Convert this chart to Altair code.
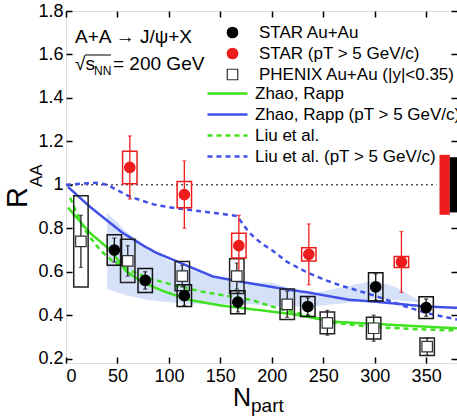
import altair as alt
import pandas as pd

# ---------------- data ----------------
# STAR Au+Au (black dots)
star_n = [47, 77, 115, 167, 235, 301, 350]
star_r = [0.70, 0.56, 0.49, 0.46, 0.44, 0.53, 0.435]
star_stat = [0.055, 0.04, 0.045, 0.045, 0.04, 0.06, 0.04]
star_sys = [0.07, 0.055, 0.05, 0.053, 0.046, 0.065, 0.05]

# STAR pT > 5 GeV/c (red dots)
hi_n = [62, 115, 168, 236, 326]
hi_r = [1.08, 0.955, 0.72, 0.68, 0.645]
hi_stat = [0.145, 0.155, 0.14, 0.14, 0.14]
hi_sys = [0.075, 0.06, 0.057, 0.03, 0.025]

# PHENIX Au+Au |y|<0.35 (open squares)
phx_n = [14.5, 60, 113, 166, 215, 254, 299, 351]
phx_r = [0.74, 0.65, 0.58, 0.58, 0.45, 0.365, 0.34, 0.255]
phx_stat = [0.12, 0.07, 0.05, 0.06, 0.06, 0.057, 0.06, 0.04]
phx_sys = [0.21, 0.10, 0.067, 0.08, 0.07, 0.05, 0.05, 0.04]

# model curves
zr_n = [2, 12, 23, 43, 59, 75, 95, 120, 150, 185, 220, 260, 300, 350, 380]
zr_r = [0.895, 0.84, 0.78, 0.70, 0.60, 0.55, 0.51, 0.47, 0.445, 0.425, 0.405, 0.37, 0.36, 0.347, 0.34]

zrhi_n = [2, 23, 33, 55, 77, 88, 120, 143, 169, 200, 217, 235, 275, 301, 350, 380]
zrhi_r = [0.99, 0.90, 0.862, 0.779, 0.715, 0.687, 0.623, 0.578, 0.555, 0.53, 0.517, 0.505, 0.471, 0.462, 0.44, 0.434]

liu_n = [4, 17, 33, 45, 60, 80, 104, 130, 155, 180, 207, 230, 260, 300, 350, 380]
liu_r = [0.94, 0.80, 0.70, 0.65, 0.61, 0.57, 0.54, 0.51, 0.49, 0.47, 0.43, 0.405, 0.365, 0.345, 0.334, 0.33]

liuhi_n = [0, 15, 30, 40, 50, 60, 72, 85, 100, 120, 140, 166, 178, 190, 200, 215, 233, 250, 268, 300, 330, 350, 380]
liuhi_r = [1.0, 1.005, 1.01, 1.0, 0.975, 0.95, 0.93, 0.91, 0.897, 0.885, 0.873, 0.857, 0.78, 0.73, 0.70, 0.645, 0.60, 0.565, 0.535, 0.49, 0.44, 0.41, 0.38]

# hatched band
band_n = [40, 60, 80, 100, 120, 150, 180, 200, 220, 240, 260, 280, 300, 320, 342]
band_hi = [0.87, 0.78, 0.71, 0.65, 0.61, 0.57, 0.55, 0.55, 0.52, 0.50, 0.52, 0.54, 0.56, 0.53, 0.47]
band_lo = [0.52, 0.49, 0.47, 0.46, 0.45, 0.45, 0.45, 0.44, 0.44, 0.44, 0.45, 0.46, 0.48, 0.47, 0.46]

# normalisation uncertainties at R_AA = 1 (red: pT > 5 GeV/c, black: all pT)
norm_red_n = [363, 373]
norm_red_err = 0.138
norm_blk_n = [373, 380]
norm_blk_err = 0.127

x_ticks = [0, 50, 100, 150, 200, 250, 300, 350]
y_ticks = [0.2, 0.4, 0.6, 0.8, 1.0, 1.2, 1.4, 1.6, 1.8]

exp_names = ["STAR Au+Au", "STAR (pT > 5 GeV/c)", "PHENIX Au+Au (|y|<0.35)"]
model_names = ["Zhao, Rapp", "Zhao, Rapp (pT > 5 GeV/c)", "Liu et al.", "Liu et al. (pT > 5 GeV/c)"]

RED = "#ee1c1c"
GREEN = "#3ee21e"
BLUE = "#4150e6"
FONT = "Liberation Sans"
BOXHALF = 7

# ---------------- tables ----------------
def exp_table(name, n, r, stat, sys):
    return pd.DataFrame({
        "series": name, "N": n, "R": r,
        "elo": [a - b for a, b in zip(r, stat)], "ehi": [a + b for a, b in zip(r, stat)],
        "slo": [a - b for a, b in zip(r, sys)], "shi": [a + b for a, b in zip(r, sys)],
        "bl": [a - BOXHALF for a in n], "br": [a + BOXHALF for a in n],
    })

star_df = exp_table(exp_names[0], star_n, star_r, star_stat, star_sys)
hi_df = exp_table(exp_names[1], hi_n, hi_r, hi_stat, hi_sys)
phx_df = exp_table(exp_names[2], phx_n, phx_r, phx_stat, phx_sys)
pts_df = pd.concat([phx_df, star_df, hi_df], ignore_index=True)

curves_df = pd.concat([
    pd.DataFrame({"model": model_names[0], "N": zr_n, "R": zr_r}),
    pd.DataFrame({"model": model_names[1], "N": zrhi_n, "R": zrhi_r}),
    pd.DataFrame({"model": model_names[2], "N": liu_n, "R": liu_r}),
    pd.DataFrame({"model": model_names[3], "N": liuhi_n, "R": liuhi_r}),
], ignore_index=True)

band_df = pd.DataFrame({"N": band_n, "hi": band_hi, "lo": band_lo})
unity_df = pd.DataFrame({"n0": [0], "n1": [360], "R": [1.0]})

xs = alt.Scale(domain=[0, 380], nice=False, zero=False)
ys = alt.Scale(domain=[0.18, 1.8], nice=False, zero=False)

tick_axis = dict(offset=-6, domain=False, ticks=True, tickSize=6, tickWidth=1.5,
                 tickColor="black", grid=False, title=None)

x_main = alt.Axis(orient="bottom", values=x_ticks, labels=True, labelFontSize=18,
                  labelFont=FONT, labelColor="black", labelPadding=4, **tick_axis)
y_main = alt.Axis(orient="left", values=y_ticks, labels=True, labelFontSize=18,
                  labelFont=FONT, labelColor="black", labelPadding=3,
                  labelExpr="datum.value == 1 ? '1' : format(datum.value, '.1f')", **tick_axis)
x_top = alt.Axis(orient="top", values=x_ticks, labels=False, **tick_axis)
y_right = alt.Axis(orient="right", values=y_ticks, labels=False, **tick_axis)

# ---------------- layers ----------------
band = alt.Chart(band_df).mark_area(color="#7fa3ee", opacity=0.33).encode(
    x=alt.X("N:Q", scale=xs, axis=x_top),
    y=alt.Y("hi:Q", scale=ys, axis=y_right),
    y2="lo:Q",
)

unity = alt.Chart(unity_df).mark_rule(color="black", strokeWidth=1, strokeDash=[2, 3]).encode(
    x=alt.X("n0:Q", scale=xs, axis=None), x2="n1:Q",
    y=alt.Y("R:Q", scale=ys, axis=None),
)

def norm_box(nrange, err, colour):
    df = pd.DataFrame({"n0": [nrange[0]], "n1": [nrange[1]], "lo": [1 - err], "hi": [1 + err]})
    return alt.Chart(df).mark_rect(color=colour).encode(
        x=alt.X("n0:Q", scale=xs, axis=None), x2="n1:Q",
        y=alt.Y("lo:Q", scale=ys, axis=None), y2="hi:Q",
    )

norm_red = norm_box(norm_red_n, norm_red_err, RED)
norm_blk = norm_box(norm_blk_n, norm_blk_err, "black")

leg_lines = alt.Legend(title=None, orient="none", legendX=140, legendY=74, padding=0,
                       labelFontSize=17, labelFont=FONT, labelFontWeight="normal",
                       labelColor="black", labelOffset=6, clipHeight=17,
                       rowPadding=3, symbolType="stroke", symbolSize=1600,
                       symbolStrokeWidth=2.5, labelLimit=500)
curves = alt.Chart(curves_df).mark_line(strokeWidth=2.5).encode(
    x=alt.X("N:Q", scale=xs, axis=None),
    y=alt.Y("R:Q", scale=ys, axis=None),
    color=alt.Color("model:N", scale=alt.Scale(domain=model_names, range=[GREEN, BLUE, GREEN, BLUE]),
                    legend=leg_lines),
    strokeDash=alt.StrokeDash("model:N", scale=alt.Scale(domain=model_names,
                              range=[[1, 0], [1, 0], [5, 4], [5, 4]]), legend=leg_lines),
)

def uncertainty_layers(df, colour):
    boxes = alt.Chart(df).mark_rect(fillOpacity=0, stroke=colour, strokeWidth=1.5).encode(
        x=alt.X("bl:Q", scale=xs, axis=None), x2="br:Q",
        y=alt.Y("slo:Q", scale=ys, axis=None), y2="shi:Q",
    )
    ebars = alt.Chart(df).mark_rule(color=colour, strokeWidth=1.3).encode(
        x=alt.X("N:Q", scale=xs, axis=None),
        y=alt.Y("elo:Q", scale=ys, axis=None), y2="ehi:Q",
    )
    cap_hi = alt.Chart(df).mark_tick(orient="horizontal", size=4, thickness=1.3, color=colour).encode(
        x=alt.X("N:Q", scale=xs, axis=None),
        y=alt.Y("ehi:Q", scale=ys, axis=None),
    )
    cap_lo = alt.Chart(df).mark_tick(orient="horizontal", size=4, thickness=1.3, color=colour).encode(
        x=alt.X("N:Q", scale=xs, axis=None),
        y=alt.Y("elo:Q", scale=ys, axis=None),
    )
    return [boxes, ebars, cap_hi, cap_lo]

unc = (uncertainty_layers(phx_df, "#222222") + uncertainty_layers(star_df, "#111111")
       + uncertainty_layers(hi_df, RED))

leg_pts = alt.Legend(title=None, orient="none", legendX=158, legendY=13, padding=0,
                     labelFontSize=17, labelFont=FONT, labelFontWeight="normal",
                     labelColor="black", labelOffset=18,
                     rowPadding=3, symbolStrokeWidth=1.2, labelLimit=500)
points = alt.Chart(pts_df).mark_point(opacity=1, strokeWidth=1.2).encode(
    x=alt.X("N:Q", scale=xs, axis=x_main),
    y=alt.Y("R:Q", scale=ys, axis=y_main),
    fill=alt.Fill("series:N", scale=alt.Scale(domain=exp_names, range=["black", RED, "white"]),
                  legend=leg_pts),
    stroke=alt.Stroke("series:N", scale=alt.Scale(domain=exp_names, range=["black", RED, "#333333"]),
                      legend=leg_pts),
    shape=alt.Shape("series:N", scale=alt.Scale(domain=exp_names, range=["circle", "circle", "square"]),
                    legend=leg_pts),
    size=alt.Size("series:N", scale=alt.Scale(domain=exp_names, range=[110, 110, 55]), legend=leg_pts),
)

one = pd.DataFrame({"k": [0]})
def label(txt, x, y, size, angle=0):
    kw = dict(text=txt, fontSize=size, font=FONT, color="black", align="left", baseline="alphabetic")
    if angle:
        kw["angle"] = angle
    return alt.Chart(one).mark_text(**kw).encode(x=alt.value(x), y=alt.value(y))

# vinculum of the square root over s_NN
vinculum = alt.Chart(one).mark_rule(color="black", strokeWidth=1).encode(
    x=alt.value(19), x2=alt.value(45), y=alt.value(44)
)

texts = [
    label("A+A \u2192 J/\u03c8+X", 9, 32, 19),
    label("\u221as", 9, 59, 19),
    label("NN", 28, 64, 12),
    label("= 200 GeV", 47, 59, 19),
    label("N", 167, 395, 25),
    label("part", 185, 401, 19),
    label("R", -39, 197, 29, angle=270),
    label("AA", -24, 176, 17, angle=270),
]

chart = alt.layer(
    band, unity, norm_red, norm_blk, curves, *unc, points, vinculum, *texts
).resolve_axis(x="independent", y="independent").properties(
    width=391, height=352,
    padding={"left": 66, "top": 11, "right": 0, "bottom": 56},
    autosize=alt.AutoSizeParams(type="none"),
).configure_view(stroke="black", strokeWidth=2).configure(font=FONT, background="white")

chart.save("out.html", embed_options={"renderer": "svg", "actions": False})
